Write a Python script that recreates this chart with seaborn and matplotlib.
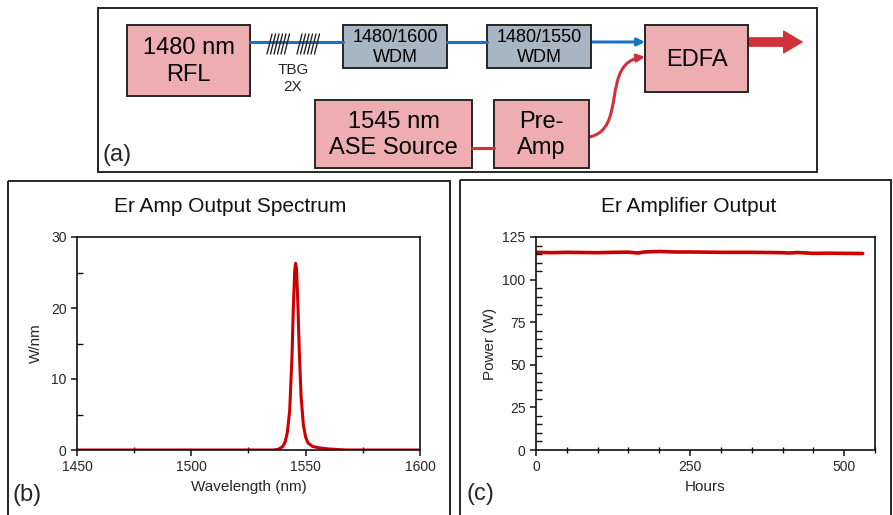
import matplotlib
matplotlib.use("Agg")
import matplotlib.pyplot as plt
import numpy as np
import pandas as pd
import seaborn as sns
from matplotlib.patches import Rectangle, FancyArrowPatch
from matplotlib.path import Path
from matplotlib.ticker import MultipleLocator

# spectrum
wavelength = [1450, 1536, 1538, 1540, 1541, 1542, 1543, 1544, 1544.6, 1545.2, 1545.6,
              1546.0, 1546.6, 1547.2, 1548, 1549, 1550, 1551, 1553, 1556, 1560, 1565, 1568, 1600]
w_per_nm = [0, 0, 0.1, 0.5, 1.1, 2.5, 5.5, 13.0, 20.0, 25.3, 26.3,
            25.5, 20.5, 14.0, 7.5, 3.5, 1.8, 1.0, 0.5, 0.3, 0.15, 0.05, 0, 0]

# output power over time, panel (c)
hours = [0, 25, 50, 75, 100, 125, 150, 165, 175, 200, 210, 225, 250, 275, 300,
         325, 350, 375, 400, 410, 425, 450, 475, 500, 530]
power = [116.0, 115.8, 116.0, 115.9, 115.8, 116.0, 116.1, 115.6, 116.2, 116.5, 116.4,
         116.2, 116.2, 116.1, 116.0, 116.0, 116.0, 115.9, 115.8, 115.6, 115.9, 115.4,
         115.5, 115.4, 115.3]

sns.set_style("ticks")
plt.rcParams['font.family'] = ['Liberation Sans', 'DejaVu Sans']

W, H = 893, 515
fig = plt.figure(figsize=(W / 100, H / 100), dpi=100)

# overlay for the block diagram and panel frames (pixel coords)
ov = fig.add_axes([0, 0, 1, 1])
ov.set_xlim(0, W)
ov.set_ylim(H, 0)
ov.axis('off')

pink = '#EEADB0'
grey = '#A8B5C2'
edge = '#262626'
blue = '#1F72C0'
red = '#D3313A'


def box(x0, y0, x1, y1, fc, lines, size):
    ov.add_patch(Rectangle((x0, y0), x1 - x0, y1 - y0, fc=fc, ec=edge, lw=1.4))
    ov.text((x0 + x1) / 2, (y0 + y1) / 2 + 1, "\n".join(lines), ha='center', va='center',
            fontsize=size, linespacing=1.25, color='black')


# frames
ov.add_patch(Rectangle((98, 8), 719, 164, fc='none', ec=edge, lw=1.4))
ov.add_patch(Rectangle((8, 181), 442, 340, fc='none', ec=edge, lw=1.4))
ov.add_patch(Rectangle((460, 180), 431, 341, fc='none', ec=edge, lw=1.4))

# fibre lines
ov.plot([250, 343], [42, 42], color=blue, lw=2.2)
ov.plot([447, 487], [42, 42], color=blue, lw=2.2)
ov.add_patch(FancyArrowPatch((591, 42), (645, 42), arrowstyle='-|>', color=blue,
                             lw=2.2, mutation_scale=11, shrinkA=0, shrinkB=0))
ov.plot([472, 494], [148, 148], color=red, lw=2.2)
ov.add_patch(FancyArrowPatch((748, 42), (802, 42),
                             arrowstyle='simple,head_width=1.3,head_length=1.1,tail_width=0.5',
                             color=red, mutation_scale=12, shrinkA=0, shrinkB=0))
curve = Path([(589, 137), (628, 130), (600, 62), (645, 57)],
             [Path.MOVETO, Path.CURVE4, Path.CURVE4, Path.CURVE4])
ov.add_patch(FancyArrowPatch(path=curve, arrowstyle='-|>', color=red, lw=2.2,
                             mutation_scale=11))

# grating marks
for gx in [267, 270.5, 274, 277.5, 281, 284.5, 297, 300.5, 304, 307.5, 311, 314.5]:
    ov.plot([gx, gx + 5], [54, 34], color='#222222', lw=1.0)
ov.text(293, 70, "TBG", ha='center', va='center', fontsize=11)
ov.text(293, 87, "2X", ha='center', va='center', fontsize=11)

box(127, 25, 250, 96, pink, ["1480 nm", "RFL"], 17)
box(343, 25, 447, 68, grey, ["1480/1600", "WDM"], 13)
box(487, 25, 591, 68, grey, ["1480/1550", "WDM"], 13)
box(645, 25, 748, 92, pink, ["EDFA"], 17)
box(315, 100, 472, 168, pink, ["1545 nm", "ASE Source"], 17)
box(494, 100, 589, 168, pink, ["Pre-", "Amp"], 17)

ov.text(103, 155, "(a)", ha='left', va='center', fontsize=17)
ov.text(12, 495, "(b)", ha='left', va='center', fontsize=17)
ov.text(466, 494, "(c)", ha='left', va='center', fontsize=17)

tick_col = '#262626'


def style(ax):
    for s in ax.spines.values():
        s.set_color('#111111')
        s.set_linewidth(1.2)
    ax.tick_params(axis='both', which='major', labelsize=10, colors='#111111',
                   labelcolor=tick_col, direction='out', length=4, width=1.1)
    ax.tick_params(axis='x', which='minor', direction='inout', length=5, width=1.0,
                   colors='#111111', bottom=True)
    ax.tick_params(axis='y', which='minor', direction='in', length=4, width=1.0,
                   colors='#111111', left=True)


# panel (b)
axb = fig.add_axes([77 / W, (H - 450) / H, (420 - 77) / W, (450 - 237) / H])
spec = pd.DataFrame({"wl": wavelength, "p": w_per_nm})
sns.lineplot(data=spec, x="wl", y="p", ax=axb, color='#CC0000', lw=2.2)
axb.set_xlim(1450, 1600)
axb.set_ylim(0, 30)
axb.set_xticks([1450, 1500, 1550, 1600])
axb.set_yticks([0, 10, 20, 30])
axb.xaxis.set_minor_locator(MultipleLocator(25))
axb.yaxis.set_minor_locator(MultipleLocator(5))
axb.set_xlabel("Wavelength (nm)", fontsize=11, color=tick_col, labelpad=4)
axb.set_ylabel("W/nm", fontsize=11, color=tick_col, labelpad=6)
style(axb)
fig.text(230 / W, 1 - 207 / H, "Er Amp Output Spectrum", ha='center', va='center',
         fontsize=15, color='#111111')

# panel (c)
axc = fig.add_axes([536 / W, (H - 450) / H, (875 - 536) / W, (450 - 237) / H])
pw = pd.DataFrame({"h": hours, "p": power})
sns.lineplot(data=pw, x="h", y="p", ax=axc, color='#CC0000', lw=2.6)
axc.set_xlim(0, 550)
axc.set_ylim(0, 125)
axc.set_xticks([0, 250, 500])
axc.set_yticks([0, 25, 50, 75, 100, 125])
axc.xaxis.set_minor_locator(MultipleLocator(50))
axc.yaxis.set_minor_locator(MultipleLocator(5))
axc.set_xlabel("Hours", fontsize=11, color=tick_col, labelpad=4)
axc.set_ylabel("Power (W)", fontsize=11, color=tick_col, labelpad=4)
style(axc)
fig.text(689 / W, 1 - 206 / H, "Er Amplifier Output", ha='center', va='center',
         fontsize=15, color='#111111')

fig.savefig("out.png", dpi=100)
